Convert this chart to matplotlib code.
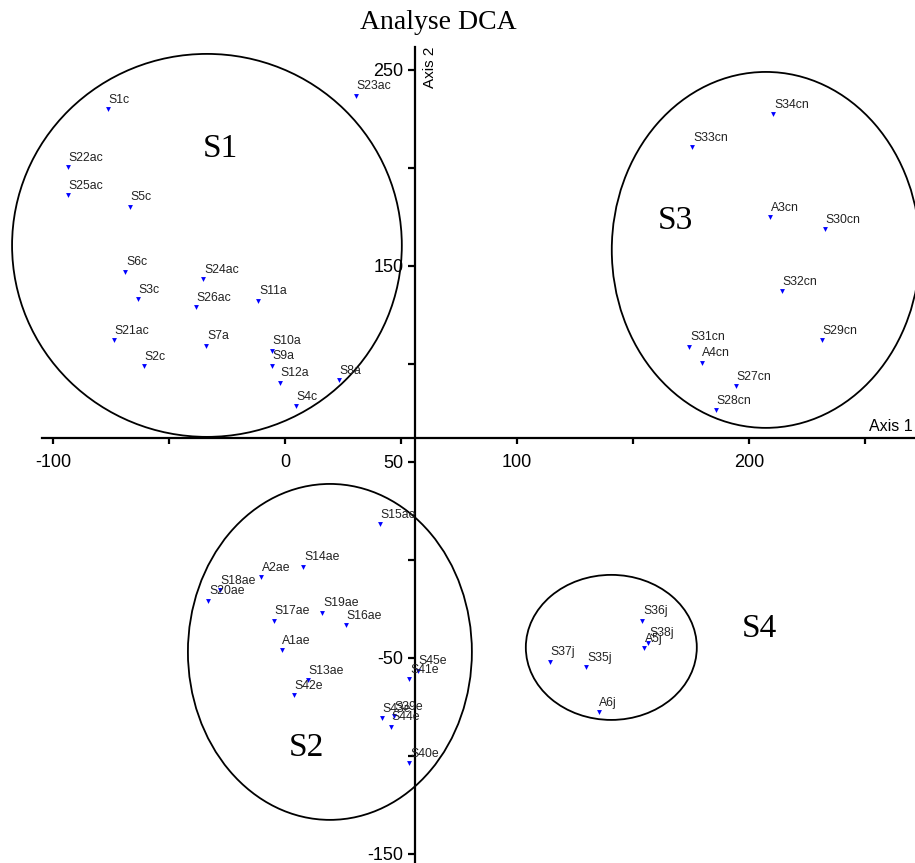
import matplotlib.pyplot as plt
from matplotlib.patches import Ellipse

# DCA site scores (axis 1, axis 2)
sites = ["S1c", "S22ac", "S25ac", "S5c", "S6c", "S24ac", "S3c", "S26ac", "S11a",
         "S7a", "S10a", "S9a", "S12a", "S8a", "S4c", "S21ac", "S2c", "S23ac",
         "S34cn", "S33cn", "A3cn", "S30cn", "S32cn", "S29cn", "S31cn", "A4cn",
         "S27cn", "S28cn",
         "S15ae", "S14ae", "A2ae", "S18ae", "S20ae", "S17ae", "S19ae", "S16ae",
         "A1ae", "S13ae", "S42e", "S45e", "S41e", "S39e", "S43e", "S44e", "S40e",
         "S36j", "S38j", "A5j", "S37j", "S35j", "A6j"]
axis1 = [-76.2, -93.7, -93.7, -66.8, -68.8, -35.2, -63.4, -38.5, -11.5,
         -33.8, -5.5, -5.5, -2.2, 23.4, 4.6, -73.7, -60.8, 30.5,
         210.5, 175.6, 209.1, 232.8, 214.1, 231.5, 174.3, 179.6,
         194.4, 185.8,
         40.9, 7.9, -10.3, -28.0, -33.0, -4.7, 16.1, 26.2,
         -1.4, 10.0, 4.0, 57.2, 53.6, 47.1, 41.7, 45.7, 53.6,
         154.1, 156.6, 154.7, 114.2, 129.9, 135.2]
axis2 = [230.1, 200.3, 186.2, 180.3, 147.1, 143.2, 133.2, 129.1, 132.3,
         109.3, 106.8, 99.1, 90.5, 91.8, 78.6, 112.2, 99.0, 236.9,
         227.6, 210.6, 174.8, 168.7, 137.2, 112.2, 108.8, 100.7,
         88.8, 76.5,
         18.4, -3.4, -8.8, -15.3, -20.8, -31.0, -26.9, -33.2,
         -45.9, -61.2, -68.9, -56.5, -60.7, -79.6, -80.5, -85.0, -103.7,
         -31.0, -42.2, -45.1, -51.9, -54.6, -77.6]

# groups: name, centre, width, height
groups = ["S1", "S2", "S3", "S4"]
group_cx = [-33.6, 19.4, 207.3, 140.7]
group_cy = [160.5, -46.9, 158.2, -44.6]
group_w = [168.0, 122.4, 132.8, 73.7]
group_h = [195.4, 171.4, 181.6, 74.0]
group_label_x = [-28.0, 9.1, 168.5, 204.7]
group_label_y = [209.7, -95.9, 173.0, -35.2]

xticks = [-100, -50, 0, 50, 100, 150, 200, 250]
xticklabels = ["-100", "", "0", "", "100", "", "200", ""]
yticks = [250, 200, 150, 100, 50, 0, -50, -100, -150]
yticklabels = ["250", "", "150", "", "50", "", "-50", "", "-150"]

sans = "Liberation Sans"
serif = "Liberation Serif"

fig = plt.figure(figsize=(9.15, 8.63), dpi=100)
ax = fig.add_axes([0, 0, 1, 1])
ax.set_xlim(-122.8, 271.6)
ax.set_ylim(-154.6, 285.7)

# axes crossing inside the plot
for s in ["top", "right"]:
    ax.spines[s].set_visible(False)
ax.spines["left"].set_position(("data", 56))
ax.spines["bottom"].set_position(("data", 62))
ax.spines["left"].set_bounds(-154.6, 261.7)
ax.spines["bottom"].set_bounds(-104.7, 271.6)
ax.spines["left"].set_linewidth(1.6)
ax.spines["bottom"].set_linewidth(1.6)

ax.set_xticks(xticks)
ax.set_xticklabels(xticklabels, fontfamily=sans, fontsize=13)
ax.set_yticks(yticks)
ax.set_yticklabels(yticklabels, fontfamily=sans, fontsize=13)
ax.tick_params(axis="x", direction="out", length=4, width=1.6, pad=7)
ax.tick_params(axis="y", direction="out", length=5, width=1.6, pad=3)

ax.text(270.5, 64.5, "Axis 1", ha="right", va="bottom", fontfamily=sans, fontsize=11.5)
ax.text(62.5, 261.7, "Axis 2", ha="center", va="top", rotation=90,
        fontfamily=sans, fontsize=11)

for cx, cy, w, h in zip(group_cx, group_cy, group_w, group_h):
    ax.add_patch(Ellipse((cx, cy), w, h, fill=False, edgecolor="black", linewidth=1.3))

for name, gx, gy in zip(groups, group_label_x, group_label_y):
    ax.text(gx, gy, name, ha="center", va="center", fontfamily=serif, fontsize=24)

ax.plot(axis1, axis2, linestyle="none", marker="v", markersize=3.5,
        color="blue", markeredgewidth=0)
for name, x, y in zip(sites, axis1, axis2):
    ax.annotate(name, (x, y), xytext=(0.5, 4.5), textcoords="offset points",
                ha="left", va="baseline", fontfamily=sans, fontsize=8.8, color="#222222")

fig.text(0.479, 0.974, "Analyse DCA", ha="center", va="center", fontfamily=serif, fontsize=20)

fig.savefig("out.png", dpi=100)
